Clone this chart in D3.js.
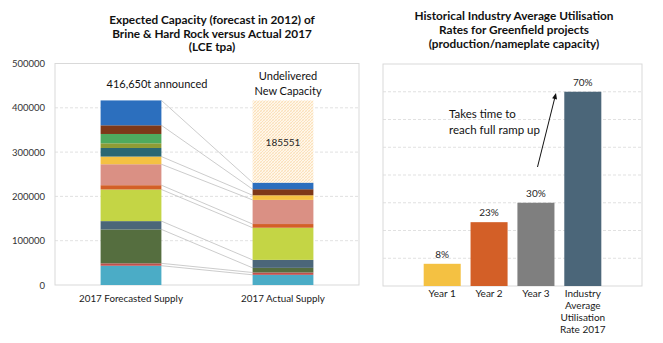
<!DOCTYPE html>
<html>
<head>
<meta charset="utf-8">
<script src="https://cdn.jsdelivr.net/npm/d3@7"></script>
<style>
  body { margin: 0; background: #fff; }
  svg text { font-family: Lato, "Open Sans", sans-serif; }
</style>
</head>
<body>
<svg id="sketchbook" width="663" height="343"></svg>
<script>
// left chart: stacked capacity, forecast vs actual (LCE tpa)
const supplyCategories = ['2017 Forecasted Supply', '2017 Actual Supply'];
const segmentColors = ['#4BACC6', '#C0504D', '#556E3F', '#4B6679', '#C4D545', '#D35F27',
                       '#DA9084', '#F4C142', '#2A6773', '#8F9C35', '#4FAA5E', '#7D3818', '#2C6FBE'];
const forecastValues = [43500, 5400, 76600, 18700, 71400, 9700, 47300, 17300, 19400, 10600, 21000, 19600, 56150];
const actualValues   = [23000, 5200, 10500, 18000, 72600, 8300, 54500, 10400, 0, 0, 0, 13700, 14899];
const undeliveredValue = 185551;
const announcedLabel = '416,650t announced';
const capacityTicks = [0, 100000, 200000, 300000, 400000, 500000];

// right chart: utilisation ramp up
const rampCategories = ['Year 1', 'Year 2', 'Year 3', 'Industry Average Utilisation Rate 2017'];
const rampValues = [0.08, 0.23, 0.30, 0.70];
const rampColors = ['#F4C142', '#D35F27', '#7F7F7F', '#4B6679'];
const rampTicks = [0.1, 0.2, 0.3, 0.4, 0.5, 0.6, 0.7];

const svg = d3.select('#sketchbook');
const gridColor = '#D9D9D9';

// fine crosshatch fill for undelivered capacity
const pat = svg.append('defs').append('pattern')
    .attr('id', 'hatch')
    .attr('patternUnits', 'userSpaceOnUse')
    .attr('width', 3).attr('height', 3);
pat.append('rect').attr('width', 3).attr('height', 3).attr('fill', '#FFF7EA');
pat.append('path').attr('d', 'M0,3 L3,0 M-1,1 L1,-1 M2,4 L4,2')
    .attr('stroke', '#F8D29C').attr('stroke-width', 0.6);
pat.append('path').attr('d', 'M0,0 L3,3 M-1,2 L1,4 M2,-1 L4,1')
    .attr('stroke', '#FAE0B8').attr('stroke-width', 0.4);

function title(lines, cx, y0, dy) {
    svg.append('text')
        .attr('x', cx).attr('y', y0)
        .attr('text-anchor', 'middle')
        .attr('font-size', 11.8).attr('font-weight', 'bold').attr('fill', '#111')
        .selectAll('tspan').data(lines).enter().append('tspan')
        .attr('x', cx).attr('dy', (d, i) => i ? dy : 0)
        .text(d => d);
}

function wrap(text, width) {
    text.each(function () {
        const t = d3.select(this);
        const words = t.text().split(/\s+/);
        const x = t.attr('x'), y = t.attr('y');
        t.text(null);
        let line = [], lineNo = 0;
        let tspan = t.append('tspan').attr('x', x).attr('y', y);
        words.forEach(w => {
            line.push(w);
            tspan.text(line.join(' '));
            if (tspan.node().getComputedTextLength() > width && line.length > 1) {
                line.pop();
                tspan.text(line.join(' '));
                line = [w];
                tspan = t.append('tspan').attr('x', x).attr('y', +y + (++lineNo) * 12).text(w);
            }
        });
    });
}

/* ---------------- left chart ---------------- */
const L = { x0: 55, x1: 359, y0: 285, y1: 63.5 };
const xL = d3.scaleBand().domain(supplyCategories).range([L.x0, L.x1])
    .paddingInner(0.6).paddingOuter(0.3);
const yL = d3.scaleLinear().domain([0, 500000]).range([L.y0, L.y1]);

const left = svg.append('g');

left.selectAll('line.grid')
    .data(capacityTicks.slice(1, -1))
    .enter().append('line')
    .attr('class', 'grid')
    .attr('x1', L.x0).attr('x2', L.x1)
    .attr('y1', d => yL(d)).attr('y2', d => yL(d))
    .attr('stroke', gridColor).attr('stroke-width', 0.8)
    .attr('stroke-dasharray', '3,2');

left.append('rect')
    .attr('x', L.x0).attr('y', yL(500000))
    .attr('width', L.x1 - L.x0).attr('height', L.y0 - yL(500000))
    .attr('fill', 'none').attr('stroke', gridColor).attr('stroke-width', 1);

const yAxisL = left.append('g')
    .attr('transform', `translate(${L.x0 - 10},0)`)
    .call(d3.axisLeft(yL).tickValues(capacityTicks).tickSize(0).tickFormat(d3.format('d')));
yAxisL.select('.domain').remove();
yAxisL.selectAll('text').attr('font-size', 9.5).attr('fill', '#333')
    .attr('font-family', 'Lato, sans-serif').attr('x', 0);

const keys = segmentColors.map((c, i) => i);
const rows = [forecastValues, actualValues].map((vals, j) => {
    const r = { cat: supplyCategories[j] };
    keys.forEach(k => { r[k] = vals[k]; });
    return r;
});
const stacked = d3.stack().keys(keys)(rows);

// series lines between the two bars
const seriesLines = stacked.filter(s => s.every(p => p[1] - p[0] > 0));
left.selectAll('line.series')
    .data(seriesLines)
    .enter().append('line')
    .attr('class', 'series')
    .attr('x1', xL(supplyCategories[0]) + xL.bandwidth())
    .attr('x2', xL(supplyCategories[1]))
    .attr('y1', s => yL(s[0][1]))
    .attr('y2', s => yL(s[1][1]))
    .attr('stroke', '#BFBFBF').attr('stroke-width', 0.8);

left.selectAll('g.layer')
    .data(stacked)
    .enter().append('g')
    .attr('class', 'layer')
    .attr('fill', s => segmentColors[s.key])
    .selectAll('rect')
    .data(s => s.filter(p => p[1] > p[0]))
    .enter().append('rect')
    .attr('x', p => xL(p.data.cat))
    .attr('y', p => yL(p[1]))
    .attr('width', xL.bandwidth())
    .attr('height', p => yL(p[0]) - yL(p[1]));

const actualTotal = d3.sum(actualValues);
left.append('rect')
    .attr('x', xL(supplyCategories[1]))
    .attr('y', yL(actualTotal + undeliveredValue))
    .attr('width', xL.bandwidth())
    .attr('height', yL(actualTotal) - yL(actualTotal + undeliveredValue))
    .attr('fill', 'url(#hatch)');

left.append('text')
    .attr('x', xL(supplyCategories[1]) + xL.bandwidth() / 2)
    .attr('y', yL(actualTotal + undeliveredValue / 2) + 4)
    .attr('text-anchor', 'middle').attr('font-size', 10).attr('fill', '#262626')
    .text(undeliveredValue);

left.append('text')
    .attr('x', xL(supplyCategories[0]) + xL.bandwidth() / 2 + 26)
    .attr('y', 88)
    .attr('text-anchor', 'middle').attr('font-size', 11).attr('fill', '#111')
    .text(announcedLabel);

left.append('text')
    .attr('x', xL(supplyCategories[1]) + xL.bandwidth() / 2 + 5)
    .attr('y', 80)
    .attr('text-anchor', 'middle').attr('font-size', 11).attr('fill', '#111')
    .selectAll('tspan').data(['Undelivered', 'New Capacity']).enter().append('tspan')
    .attr('x', xL(supplyCategories[1]) + xL.bandwidth() / 2 + 5)
    .attr('dy', (d, i) => i ? 15 : 0)
    .text(d => d);

left.selectAll('text.cat')
    .data(supplyCategories)
    .enter().append('text')
    .attr('class', 'cat')
    .attr('x', d => xL(d) + xL.bandwidth() / 2)
    .attr('y', 302)
    .attr('text-anchor', 'middle').attr('font-size', 9.8).attr('fill', '#1a1a1a')
    .text(d => d);

title(['Expected Capacity (forecast in 2012) of',
       'Brine & Hard Rock versus Actual 2017',
       '(LCE tpa)'], 212, 24, 13.5);

/* ---------------- right chart ---------------- */
const R = { x0: 383, x1: 642, y0: 286, y1: 64 };
const xR = d3.scaleBand().domain(rampCategories).range([R.x0, R.x1])
    .paddingInner(0.21).paddingOuter(0.868);
const yR = d3.scaleLinear().domain([0, 0.8]).range([R.y0, R.y1]);

const right = svg.append('g');

right.selectAll('line.grid')
    .data(rampTicks)
    .enter().append('line')
    .attr('class', 'grid')
    .attr('x1', R.x0).attr('x2', R.x1)
    .attr('y1', d => yR(d)).attr('y2', d => yR(d))
    .attr('stroke', gridColor).attr('stroke-width', 0.8)
    .attr('stroke-dasharray', '3,2');

right.append('rect')
    .attr('x', R.x0).attr('y', R.y1)
    .attr('width', R.x1 - R.x0).attr('height', R.y0 - R.y1)
    .attr('fill', 'none').attr('stroke', gridColor).attr('stroke-width', 1);

right.selectAll('rect.bar')
    .data(rampValues)
    .enter().append('rect')
    .attr('class', 'bar')
    .attr('x', (d, i) => xR(rampCategories[i]))
    .attr('y', d => yR(d))
    .attr('width', xR.bandwidth())
    .attr('height', d => yR(0) - yR(d))
    .attr('fill', (d, i) => rampColors[i]);

right.selectAll('text.val')
    .data(rampValues)
    .enter().append('text')
    .attr('class', 'val')
    .attr('x', (d, i) => xR(rampCategories[i]) + xR.bandwidth() / 2)
    .attr('y', d => yR(d) - 6)
    .attr('text-anchor', 'middle').attr('font-size', 10).attr('fill', '#262626')
    .text(d => d3.format('.0%')(d));

right.selectAll('text.cat')
    .data(rampCategories)
    .enter().append('text')
    .attr('class', 'cat')
    .attr('x', d => xR(d) + xR.bandwidth() / 2)
    .attr('y', 297)
    .attr('text-anchor', 'middle').attr('font-size', 10).attr('fill', '#1a1a1a')
    .text(d => d)
    .call(wrap, 50);

right.append('text')
    .attr('x', 449).attr('y', 118)
    .attr('font-size', 11.5).attr('fill', '#111')
    .selectAll('tspan').data(['Takes time to', 'reach full ramp up']).enter().append('tspan')
    .attr('x', 449).attr('dy', (d, i) => i ? 16 : 0)
    .text(d => d);

// arrow towards the industry average bar
const ax1 = 537.5, ay1 = 167, ax2 = 556, ay2 = 93;
const ang = Math.atan2(ay2 - ay1, ax2 - ax1);
right.append('line')
    .attr('x1', ax1).attr('y1', ay1).attr('x2', ax2 - 4 * Math.cos(ang)).attr('y2', ay2 - 4 * Math.sin(ang))
    .attr('stroke', '#111').attr('stroke-width', 1);
right.append('path')
    .attr('d', d3.line()([
        [ax2, ay2],
        [ax2 - 6 * Math.cos(ang) + 2.5 * Math.sin(ang), ay2 - 6 * Math.sin(ang) - 2.5 * Math.cos(ang)],
        [ax2 - 6 * Math.cos(ang) - 2.5 * Math.sin(ang), ay2 - 6 * Math.sin(ang) + 2.5 * Math.cos(ang)]
    ]) + 'Z')
    .attr('fill', '#111');

title(['Historical Industry Average Utilisation',
       'Rates for Greenfield projects',
       '(production/nameplate capacity)'], 514, 20, 14.2);
</script>
</body>
</html>
